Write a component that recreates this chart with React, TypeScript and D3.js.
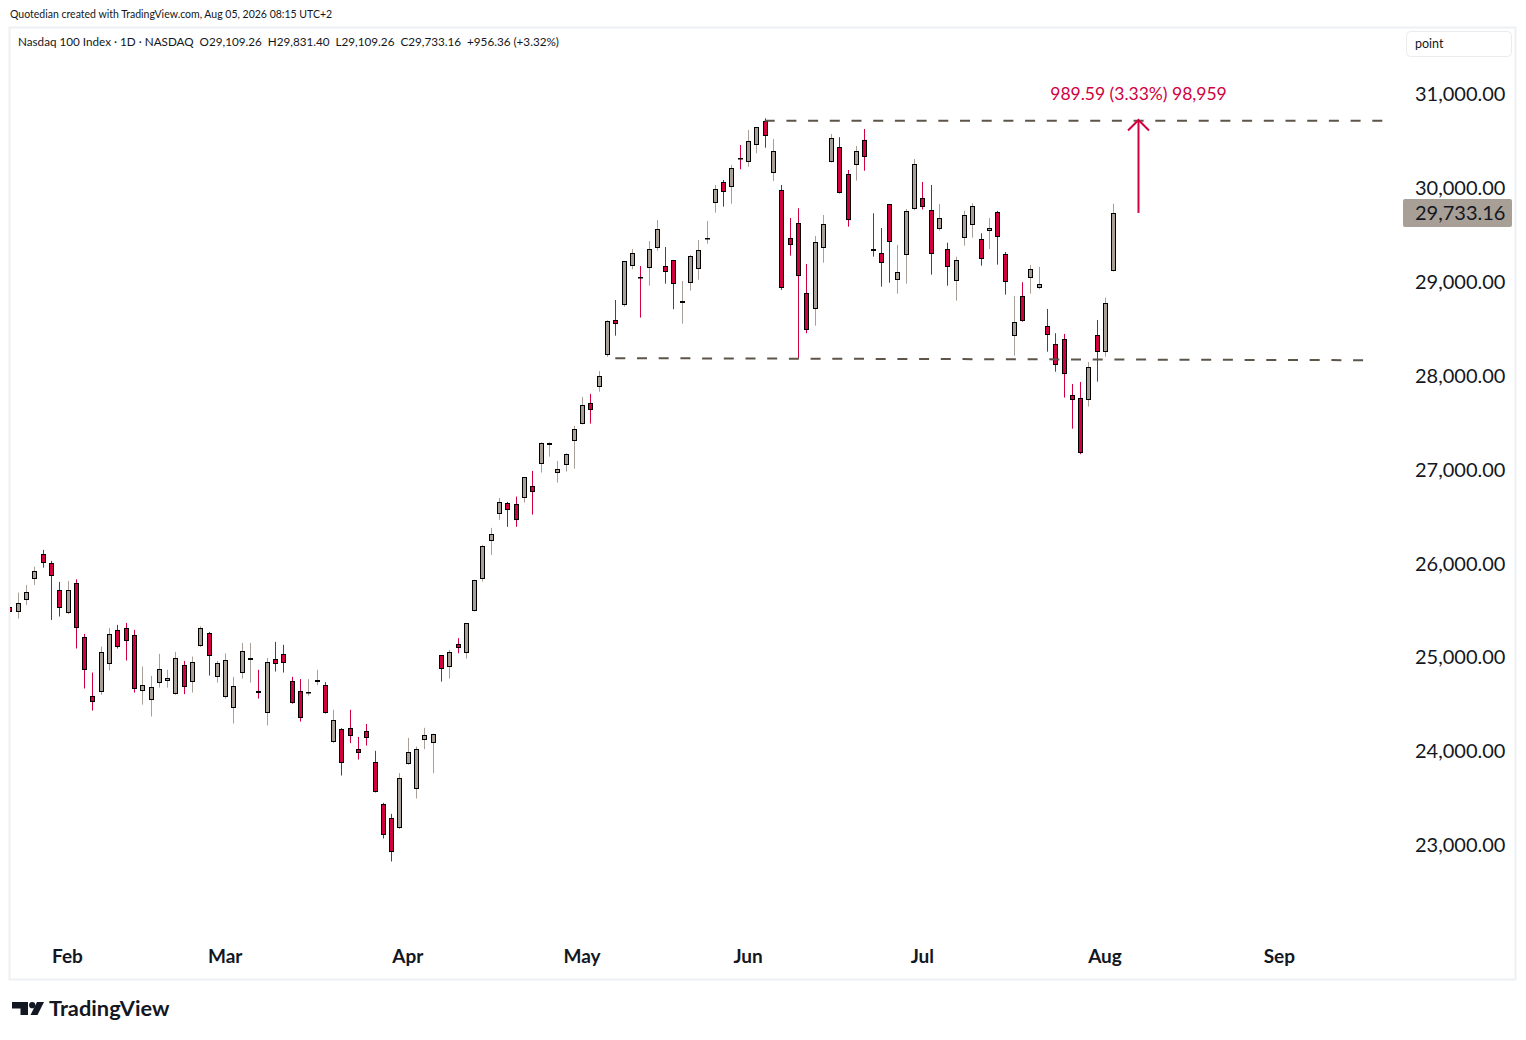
import React from "react";
import * as d3 from "d3";

// daily bars per month: [day, open, high, low, close]
const jan2026 = [
  [22, 25530, 25600, 25450, 25485],
  [23, 25480, 25689, 25412, 25576],
  [26, 25608, 25771, 25558, 25693],
  [27, 25832, 25966, 25771, 25917],
  [28, 26098, 26144, 25955, 26002],
  [29, 26002, 26026, 25398, 25863],
  [30, 25714, 25803, 25434, 25523],
];
const feb2026 = [
  [2, 25470, 25814, 25460, 25714],
  [3, 25789, 25830, 25093, 25310],
  [4, 25214, 25249, 24667, 24862],
  [5, 24585, 24837, 24432, 24521],
  [6, 24628, 25114, 24600, 25054],
  [9, 24926, 25313, 24859, 25246],
  [10, 25289, 25345, 25093, 25108],
  [11, 25310, 25366, 24965, 25171],
  [12, 25235, 25292, 24624, 24660],
  [13, 24639, 24901, 24496, 24703],
  [17, 24542, 24802, 24369, 24681],
  [18, 24724, 25036, 24677, 24873],
  [19, 24745, 24866, 24677, 24777],
  [20, 24607, 25058, 24600, 24990],
  [23, 24916, 24961, 24607, 24684],
  [24, 24735, 25007, 24624, 24948],
  [25, 25118, 25330, 25110, 25310],
  [26, 25257, 25270, 24805, 25012],
  [27, 24788, 24961, 24730, 24937],
];
const mar2026 = [
  [2, 24575, 25040, 24560, 24969],
  [3, 24464, 24791, 24294, 24692],
  [4, 24831, 25153, 24773, 25065],
  [5, 24969, 25153, 24730, 24990],
  [6, 24639, 24866, 24560, 24617],
  [9, 24404, 24993, 24273, 24948],
  [10, 24980, 25164, 24848, 24926],
  [11, 25033, 25132, 24837, 24937],
  [12, 24745, 24791, 24505, 24510],
  [13, 24639, 24767, 24315, 24351],
  [16, 24625, 24767, 24592, 24630],
  [17, 24735, 24866, 24703, 24756],
  [18, 24703, 24735, 24400, 24404],
  [19, 24096, 24440, 24085, 24330],
  [20, 24234, 24245, 23740, 23872],
  [23, 24245, 24440, 24085, 24160],
  [24, 24021, 24152, 23910, 23978],
  [25, 24213, 24290, 24059, 24138],
  [26, 23883, 24003, 23560, 23563],
  [27, 23435, 23449, 23069, 23105],
  [30, 23286, 23332, 22824, 22924],
  [31, 23176, 23765, 23170, 23712],
];
const apr2026 = [
  [1, 23861, 24141, 23855, 23989],
  [2, 23595, 24049, 23495, 24021],
  [6, 24117, 24248, 24021, 24170],
  [7, 24085, 24185, 23765, 24181],
  [8, 25022, 25025, 24741, 24873],
  [9, 24894, 25079, 24773, 25054],
  [10, 25139, 25203, 25043, 25097],
  [13, 25043, 25365, 24986, 25363],
  [14, 25491, 25825, 25488, 25821],
  [15, 25832, 26197, 25806, 26183],
  [16, 26236, 26378, 26090, 26311],
  [17, 26524, 26697, 26463, 26652],
  [20, 26641, 26655, 26389, 26566],
  [21, 26630, 26711, 26389, 26460],
  [22, 26694, 26920, 26648, 26918],
  [23, 26822, 26985, 26520, 26758],
  [24, 27056, 27291, 26967, 27280],
  [27, 27259, 27291, 27137, 27280],
  [28, 26961, 27091, 26860, 27003],
  [29, 27046, 27173, 26978, 27163],
  [30, 27301, 27464, 27009, 27429],
];
const may2026 = [
  [1, 27482, 27773, 27480, 27685],
  [4, 27706, 27805, 27489, 27631],
  [5, 27876, 28050, 27829, 27994],
  [6, 28217, 28590, 28200, 28579],
  [7, 28593, 28806, 28426, 28547],
  [8, 28750, 29220, 28735, 29218],
  [11, 29165, 29349, 29133, 29303],
  [12, 29050, 29168, 28618, 29045],
  [13, 29144, 29434, 28958, 29346],
  [14, 29357, 29658, 29331, 29559],
  [15, 29165, 29371, 28980, 29101],
  [18, 29229, 29232, 28707, 28973],
  [19, 28771, 29008, 28554, 28792],
  [20, 28984, 29285, 28905, 29272],
  [21, 29133, 29445, 29022, 29335],
  [22, 29462, 29647, 29406, 29470],
  [26, 29836, 30031, 29736, 29985],
  [27, 30060, 30084, 29800, 29953],
  [28, 30006, 30244, 29832, 30209],
  [29, 30318, 30457, 30198, 30312],
];
const jun2026 = [
  [1, 30273, 30617, 30226, 30496],
  [2, 30454, 30648, 30368, 30645],
  [3, 30709, 30741, 30428, 30550],
  [4, 30155, 30521, 30073, 30390],
  [5, 29974, 30031, 28913, 28937],
  [8, 29463, 29679, 29278, 29389],
  [9, 29623, 29783, 28185, 29059],
  [10, 28877, 29189, 28451, 28483],
  [11, 28707, 29488, 28532, 29421],
  [12, 29357, 29711, 29203, 29612],
  [15, 30273, 30574, 30270, 30528],
  [16, 30432, 30539, 29940, 29942],
  [17, 30145, 30191, 29587, 29655],
  [18, 30241, 30446, 30077, 30390],
  [22, 30507, 30627, 30183, 30326],
  [23, 29346, 29729, 29267, 29325],
  [24, 29303, 29573, 28948, 29197],
  [25, 29825, 29828, 28990, 29421],
  [26, 29016, 29392, 28873, 29101],
  [29, 29289, 29775, 28980, 29751],
  [30, 29772, 30308, 29761, 30251],
];
const jul2026 = [
  [1, 29889, 30063, 29770, 29793],
  [2, 29765, 30031, 29076, 29299],
  [6, 29559, 29828, 29544, 29676],
  [7, 29346, 29416, 28958, 29154],
  [8, 29005, 29267, 28799, 29229],
  [9, 29463, 29757, 29384, 29708],
  [10, 29602, 29836, 29470, 29804],
  [13, 29453, 29516, 29171, 29240],
  [14, 29538, 29679, 29349, 29570],
  [15, 29740, 29754, 29182, 29480],
  [16, 29293, 29317, 28863, 29001],
  [17, 28426, 28849, 28213, 28569],
  [20, 28846, 28995, 28575, 28579],
  [21, 29037, 29179, 28873, 29133],
  [22, 28931, 29158, 28920, 28973],
  [23, 28526, 28710, 28255, 28430],
  [24, 28341, 28451, 28042, 28111],
  [27, 28388, 28444, 27766, 28015],
  [28, 27791, 27911, 27435, 27738],
  [29, 27759, 27933, 27163, 27173],
  [30, 27738, 28146, 27670, 28089],
  [31, 28430, 28593, 27936, 28249],
];
const aug2026 = [
  [3, 28255, 28831, 28202, 28776.8],
  [4, 29109.26, 29831.4, 29109.26, 29733.16],
];

const months: [number, number[][]][] = [
  [1, jan2026], [2, feb2026], [3, mar2026], [4, apr2026],
  [5, may2026], [6, jun2026], [7, jul2026], [8, aug2026],
];

const priceTicks = [23000, 24000, 25000, 26000, 27000, 28000, 29000, 30000, 31000];
const monthTicks: [string, string][] = [
  ["Feb", "2026-02-02"], ["Mar", "2026-03-02"], ["Apr", "2026-04-01"], ["May", "2026-05-01"],
  ["Jun", "2026-06-01"], ["Jul", "2026-07-01"], ["Aug", "2026-08-03"], ["Sep", "2026-09-01"],
];

// drawings: [date, price] endpoints
const resistance: [string, number][] = [["2026-06-03", 30715], ["2026-09-18", 30715]];
const support: [string, number][] = [["2026-05-07", 28186], ["2026-09-16", 28164]];
const measure = { date: "2026-08-07", from: 29733.16, to: 30722.75 };

const headerText = "Nasdaq 100 Index · 1D · NASDAQ  O29,109.26  H29,831.40  L29,109.26  C29,733.16  +956.36 (+3.32%)";
const creditText = "Quotedian created with TradingView.com, Aug 05, 2026 08:15 UTC+2";

const UP = "#a89f96";
const DOWN = "#d1003f";
const TEXT = "#131722";
const FONT = "Lato, 'Noto Sans', sans-serif";

const pad = (n: number) => String(n).padStart(2, "0");
const bars = months.flatMap(([m, rows]) =>
  rows.map(([d, o, h, l, c]) => ({ date: `2026-${pad(m)}-${pad(d)}`, o, h, l, c }))
);

// trading-day index of a date (weekdays counted past the last bar)
function dayIndex(date: string) {
  const k = bars.findIndex((b) => b.date === date);
  if (k >= 0) return k;
  const last = new Date(bars[bars.length - 1].date + "T00:00:00Z");
  const target = new Date(date + "T00:00:00Z");
  let idx = bars.length - 1;
  const t = new Date(last);
  while (t < target) {
    t.setUTCDate(t.getUTCDate() + 1);
    const wd = t.getUTCDay();
    if (wd !== 0 && wd !== 6) idx++;
  }
  return idx;
}

export default function App() {
  const W = 1526, H = 1040;
  const x = d3.scaleLinear().domain([dayIndex("2026-02-02"), bars.length - 1]).range([67.5, 1113.3]);
  const y = d3.scaleLinear().domain([23000, 31000]).range([845, 94]);
  const fmt = d3.format(",.2f");
  const line = d3.line<[string, number]>().x((d) => x(dayIndex(d[0]))).y((d) => y(d[1]));

  const mx = Math.round(x(dayIndex(measure.date))) + 0.5;
  const yTop = y(measure.to);
  const yBot = y(measure.from);
  const last = bars[bars.length - 1];

  return (
    <svg width={W} height={H} style={{ position: "absolute", left: 0, top: 0, background: "#fff" }} fontFamily={FONT}>
      <defs>
        <clipPath id="plot">
          <rect x={10} y={28} width={1392} height={912} />
        </clipPath>
      </defs>
      <rect width={W} height={H} fill="#fff" />
      <text x={10} y={18} fontSize={10.5} fill={TEXT}>{creditText}</text>
      <rect x={9.5} y={27.5} width={1506} height={952} fill="none" stroke="#eef0f3" strokeWidth={2} />
      <text x={18} y={46} fontSize={11.7} fill={TEXT} style={{ whiteSpace: "pre" }}>{headerText}</text>

      <g clipPath="url(#plot)">
        {bars.map((b, i) => {
          const L = Math.round(x(i)) - 2;
          const up = b.c >= b.o;
          const col = up ? UP : DOWN;
          const top = Math.round(y(Math.max(b.o, b.c)));
          const bot = Math.round(y(Math.min(b.o, b.c)));
          return (
            <g key={b.date}>
              <line x1={L + 2.5} x2={L + 2.5} y1={y(b.h)} y2={y(b.l)} stroke={col} strokeWidth={1} />
              <rect x={L + 0.5} y={top + 0.5} width={4} height={Math.max(bot - top - 1, 0.5)} fill={col} stroke="#000" strokeWidth={1} />
            </g>
          );
        })}

        <path d={line(resistance) || ""} fill="none" stroke="#5d544a" strokeWidth={2} strokeDasharray="10 11.7" />
        <path d={line(support) || ""} fill="none" stroke="#5d544a" strokeWidth={2} strokeDasharray="10 11.7" />

        <line x1={mx} x2={mx} y1={yBot} y2={yTop} stroke={DOWN} strokeWidth={2} />
        <path d={`M${mx - 10.5},${yTop + 10.5}L${mx},${yTop}L${mx + 10.5},${yTop + 10.5}`} fill="none" stroke={DOWN} strokeWidth={2} />
        <text x={mx} y={100} textAnchor="middle" fontSize={17.5} fill={DOWN}>
          {`${d3.format(".2f")(measure.to - measure.from)} (${d3.format(".2f")(((measure.to - measure.from) / measure.from) * 100)}%) 98,959`}
        </text>
      </g>

      {priceTicks.map((p) => (
        <text key={p} x={1415} y={y(p)} dy="0.36em" fontSize={20} fill={TEXT}>{fmt(p)}</text>
      ))}
      <rect x={1403} y={y(last.c) - 14} width={109} height={28} rx={2} fill={UP} />
      <text x={1415} y={y(last.c)} dy="0.36em" fontSize={20} fill={TEXT}>{fmt(last.c)}</text>

      <rect x={1406.5} y={31.5} width={105} height={25} rx={4} fill="#fff" stroke="#e9ebef" />
      <text x={1415} y={48} fontSize={12.5} fill={TEXT}>point</text>

      {monthTicks.map(([label, date]) => (
        <text key={label} x={x(dayIndex(date))} y={963} textAnchor="middle" fontSize={19} fontWeight={700} fill={TEXT}>{label}</text>
      ))}

      <g fill={TEXT}>
        <path d="M12,1002H28V1015H20.5V1008.5H12Z" />
        <circle cx={32.2} cy={1005.2} r={3.1} />
        <path d="M37,1002H44L37.5,1015H30.5Z" />
        <text x={49} y={1015.5} fontSize={21.8} fontWeight={700}>TradingView</text>
      </g>
    </svg>
  );
}
